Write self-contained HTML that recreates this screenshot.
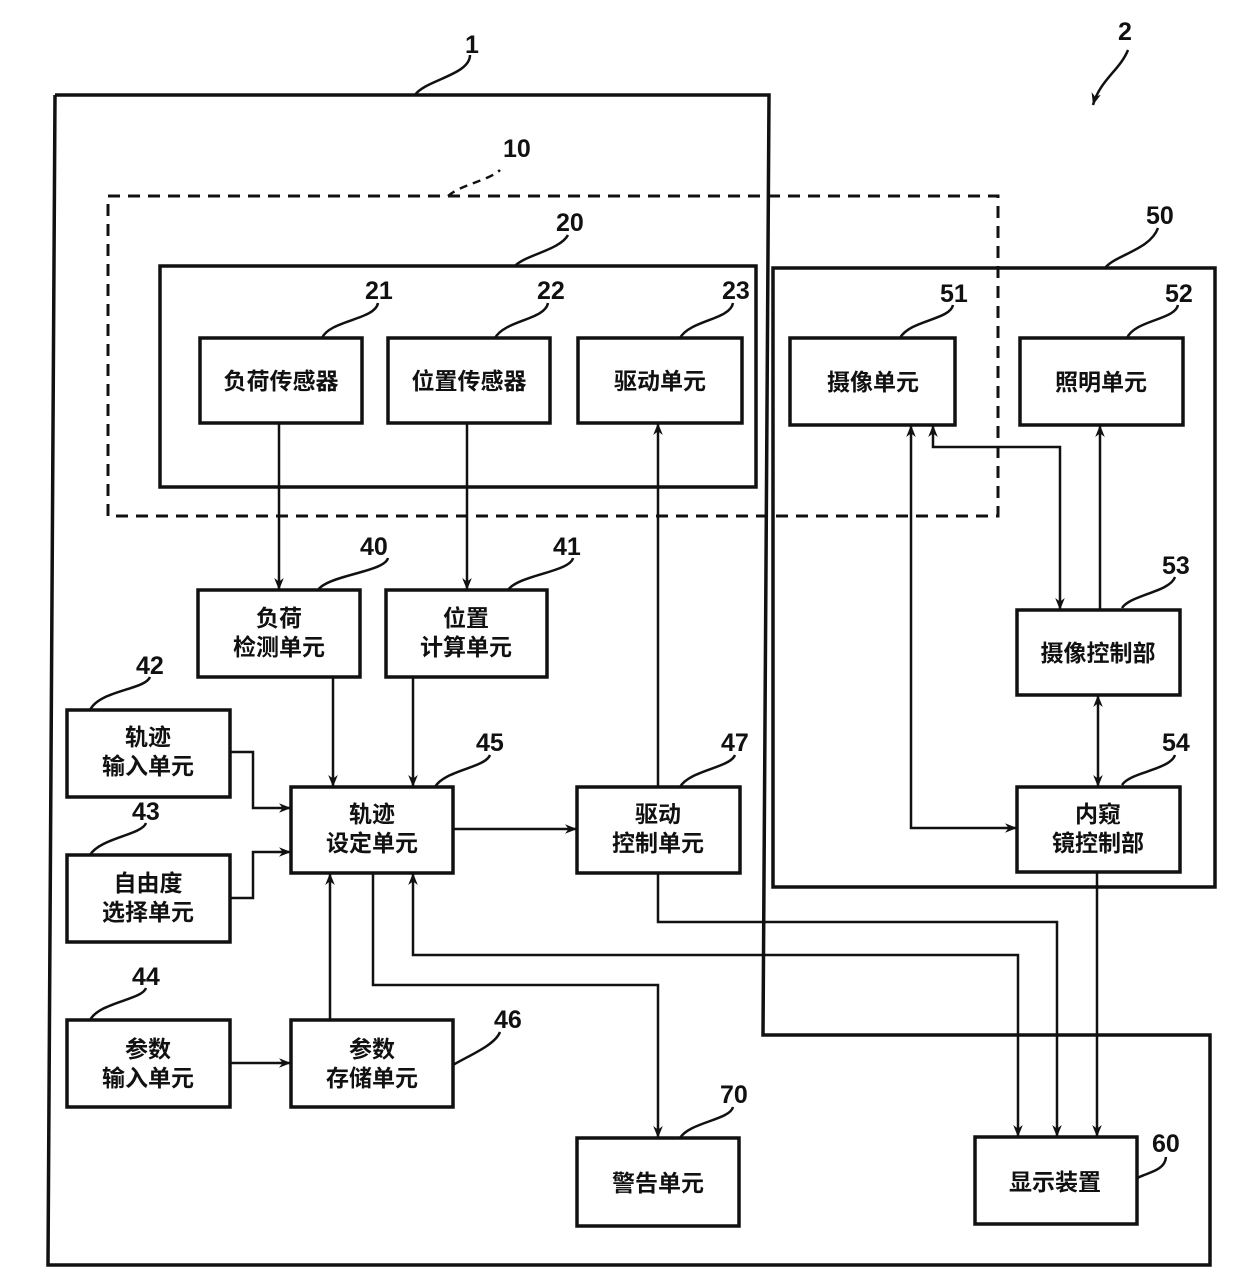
<!DOCTYPE html>
<html><head><meta charset="utf-8"><style>
html,body{margin:0;padding:0;background:#fff}
svg text{font-family:"Liberation Sans","Noto Sans CJK SC",sans-serif;font-weight:bold;fill:#111}
.n{font-size:25px}
.t{font-size:23px}
</style></head><body>
<svg width="1240" height="1279" viewBox="0 0 1240 1279" xmlns="http://www.w3.org/2000/svg">
<defs><marker id="a" viewBox="0 0 10 10" refX="10" refY="5" markerWidth="12" markerHeight="12" markerUnits="userSpaceOnUse" orient="auto-start-reverse"><path d="M0,1 L10,5 L0,9 L3,5z" fill="#111"/></marker></defs>
<g fill="none" stroke="#111" stroke-width="3.5">
<polyline points="55,95 769,95 763,1035 1210,1035 1210,1265 48,1265 55,95"/>
<rect x="108" y="196" width="890" height="320" stroke-dasharray="12,8" stroke-width="3"/>
<rect x="160" y="266" width="596" height="221"/>
<rect x="773" y="268" width="442" height="619"/>
<rect x="200" y="338" width="162" height="85"/>
<rect x="388" y="338" width="162" height="85"/>
<rect x="578" y="338" width="164" height="85"/>
<rect x="790" y="338" width="165" height="87"/>
<rect x="1020" y="338" width="163" height="87"/>
<rect x="1017" y="610" width="163" height="85"/>
<rect x="1017" y="787" width="163" height="85"/>
<rect x="198" y="590" width="162" height="87"/>
<rect x="386" y="590" width="161" height="87"/>
<rect x="67" y="710" width="163" height="87"/>
<rect x="67" y="855" width="163" height="87"/>
<rect x="291" y="787" width="162" height="86"/>
<rect x="577" y="787" width="163" height="86"/>
<rect x="67" y="1020" width="163" height="87"/>
<rect x="291" y="1020" width="162" height="87"/>
<rect x="577" y="1138" width="162" height="88"/>
<rect x="975" y="1137" width="162" height="87"/>
</g>
<g fill="none" stroke="#111" stroke-width="2.5">
<line x1="279" y1="423" x2="279" y2="590" marker-end="url(#a)"/>
<line x1="467" y1="423" x2="467" y2="590" marker-end="url(#a)"/>
<line x1="333" y1="677" x2="333" y2="787" marker-end="url(#a)"/>
<line x1="413" y1="677" x2="413" y2="787" marker-end="url(#a)"/>
<polyline points="230,752 253,752 253,808 291,808" marker-end="url(#a)"/>
<polyline points="230,898 253,898 253,852 291,852" marker-end="url(#a)"/>
<line x1="453" y1="829" x2="577" y2="829" marker-end="url(#a)"/>
<line x1="658" y1="787" x2="658" y2="423" marker-end="url(#a)"/>
<line x1="330" y1="1020" x2="330" y2="873" marker-end="url(#a)"/>
<line x1="230" y1="1063" x2="291" y2="1063" marker-end="url(#a)"/>
<polyline points="373,873 373,985 658,985 658,1138" marker-end="url(#a)"/>
<polyline points="413,873 413,955 1018,955 1018,1137" marker-start="url(#a)" marker-end="url(#a)"/>
<polyline points="658,873 658,922 1057,922 1057,1137" marker-end="url(#a)"/>
<line x1="1097" y1="872" x2="1097" y2="1137" marker-end="url(#a)"/>
<polyline points="911,425 911,828 1017,828" marker-start="url(#a)" marker-end="url(#a)"/>
<polyline points="933,425 933,447 1060,447 1060,610" marker-start="url(#a)" marker-end="url(#a)"/>
<line x1="1100" y1="610" x2="1100" y2="425" marker-end="url(#a)"/>
<line x1="1098" y1="695" x2="1098" y2="787" marker-start="url(#a)" marker-end="url(#a)"/>
<path d="M1128,50 C1120,70 1100,80 1093,105" marker-end="url(#a)"/>
<path d="M415,95 C425,80 470,75 470,55"/>
<path d="M448,196 C460,185 490,180 500,170" stroke-dasharray="8,6"/>
<path d="M515,266 C525,255 560,250 568,235"/>
<path d="M322,338 C330,320 375,320 378,303"/>
<path d="M495,338 C505,320 545,320 548,303"/>
<path d="M680,338 C690,320 730,320 733,303"/>
<path d="M900,338 C910,320 950,320 953,305"/>
<path d="M1127,338 C1135,320 1175,320 1178,305"/>
<path d="M1105,268 C1115,255 1150,250 1158,228"/>
<path d="M1122,608 C1130,595 1170,592 1175,577"/>
<path d="M1122,785 C1130,772 1170,770 1175,755"/>
<path d="M318,590 C328,575 385,572 388,558"/>
<path d="M508,590 C518,575 570,572 573,558"/>
<path d="M90,710 C100,690 145,690 150,677"/>
<path d="M90,855 C100,838 142,835 146,823"/>
<path d="M90,1020 C100,1002 142,1000 146,988"/>
<path d="M435,787 C445,770 485,768 490,755"/>
<path d="M680,787 C690,770 730,768 735,755"/>
<path d="M453,1065 C470,1055 495,1045 500,1032"/>
<path d="M680,1138 C690,1122 730,1120 733,1107"/>
<path d="M1137,1178 C1150,1172 1165,1170 1166,1157"/>
</g>
<g class="n">
<text x="465" y="53">1</text><text x="1118" y="40">2</text>
<text x="503" y="157">10</text><text x="556" y="231">20</text>
<text x="365" y="299">21</text><text x="537" y="299">22</text><text x="722" y="299">23</text>
<text x="1146" y="224">50</text><text x="940" y="302">51</text><text x="1165" y="302">52</text>
<text x="1162" y="574">53</text><text x="1162" y="751">54</text>
<text x="360" y="555">40</text><text x="553" y="555">41</text>
<text x="136" y="674">42</text><text x="132" y="820">43</text><text x="132" y="985">44</text>
<text x="476" y="751">45</text><text x="494" y="1028">46</text><text x="721" y="751">47</text>
<text x="720" y="1103">70</text><text x="1152" y="1152">60</text>
</g>
<g class="t" text-anchor="middle">
<text x="281" y="389">负荷传感器</text>
<text x="469" y="389">位置传感器</text>
<text x="660" y="389">驱动单元</text>
<text x="873" y="390">摄像单元</text>
<text x="1101" y="390">照明单元</text>
<text x="1098" y="661">摄像控制部</text>
<text x="1098" y="822">内窥</text><text x="1098" y="851">镜控制部</text>
<text x="279" y="626">负荷</text><text x="279" y="655">检测单元</text>
<text x="466" y="626">位置</text><text x="466" y="655">计算单元</text>
<text x="148" y="745">轨迹</text><text x="148" y="774">输入单元</text>
<text x="148" y="891">自由度</text><text x="148" y="920">选择单元</text>
<text x="372" y="822">轨迹</text><text x="372" y="851">设定单元</text>
<text x="658" y="822">驱动</text><text x="658" y="851">控制单元</text>
<text x="148" y="1057">参数</text><text x="148" y="1086">输入单元</text>
<text x="372" y="1057">参数</text><text x="372" y="1086">存储单元</text>
<text x="658" y="1191">警告单元</text>
<text x="1055" y="1190">显示装置</text>
</g>
</svg>
</body></html>
